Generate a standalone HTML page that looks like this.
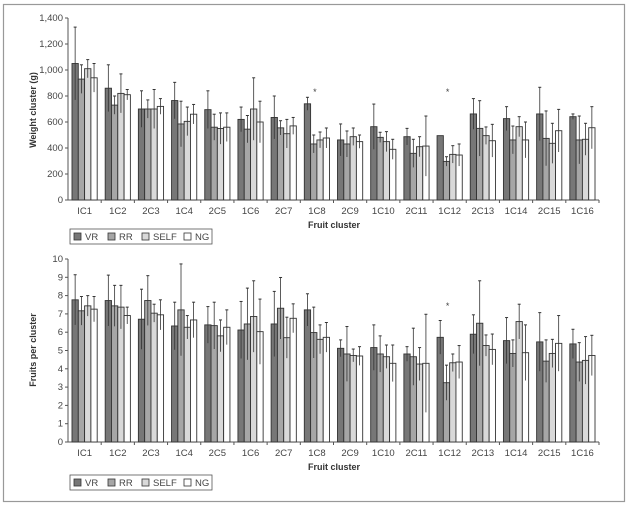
<!DOCTYPE html>
<html><head><meta charset="utf-8"><style>
html,body{margin:0;padding:0;background:#fff;}
svg{display:block;font-family:"Liberation Sans Narrow","Liberation Sans",sans-serif;}
</style></head><body>
<svg id="chart" width="630" height="507" viewBox="0 0 630 507" xmlns="http://www.w3.org/2000/svg">
<rect x="3.5" y="4.5" width="621" height="497" fill="#fff" stroke="#999" stroke-width="1.2"/>
<g id="top"></g><g id="bot"></g>
</svg>
<script>
const categories=["IC1","1C2","2C3","1C4","2C5","1C6","2C7","1C8","2C9","1C10","2C11","1C12","2C13","1C14","2C15","1C16"];
const seriesNames=["VR","RR","SELF","NG"];
const weightVR=[1050,860,700,765,695,620,635,740,462,564,487,495,662,626,662,641];
const weightRR=[930,730,700,585,560,545,555,431,431,482,359,297,551,462,474,462];
const weightSELF=[1010,820,700,605,550,700,510,462,487,449,410,351,495,564,436,467];
const weightNG=[940,810,720,660,560,600,570,477,449,390,415,346,456,462,533,556];
const weightErrTopVR=[1330,1040,840,905,840,715,800,790,585,738,551,495,780,718,867,662];
const weightErrTopRR=[1040,800,770,760,660,650,610,500,531,521,467,333,764,569,685,646];
const weightErrTopSELF=[1080,970,850,715,670,940,620,523,554,526,487,418,562,641,590,590];
const weightErrTopNG=[1050,850,780,735,670,760,635,554,500,467,646,431,582,600,697,718];
const weightTicks=["0","200","400","600","800","1,000","1,200","1,400"];
const fruitVR=[7.77,7.73,6.71,6.34,6.4,6.12,6.45,7.22,5.12,5.16,4.81,5.72,5.89,5.54,5.47,5.36];
const fruitRR=[7.17,7.44,7.73,7.22,6.36,6.45,7.31,5.98,4.81,4.81,4.66,3.24,6.49,4.84,4.42,4.37];
const fruitSELF=[7.44,7.37,7.04,6.27,5.8,6.86,5.7,5.61,4.73,4.66,4.26,4.33,5.27,6.58,4.84,4.46];
const fruitNG=[7.26,6.91,6.95,6.67,6.27,6.03,6.76,5.72,4.7,4.3,4.3,4.37,5.06,4.88,5.39,4.73];
const fruitErrTopVR=[9.14,9.12,8.35,7.64,7.4,7.68,8.23,8.1,5.58,6.4,5.21,6.64,6.95,6.8,7.07,6.16];
const fruitErrTopRR=[7.95,8.56,9.09,9.73,7.64,8.41,8.99,7.37,6.31,5.8,6.22,4.2,8.81,5.58,5.58,5.43];
const fruitErrTopSELF=[8.0,8.56,7.53,6.91,6.67,8.81,6.82,6.4,5.08,5.3,5.16,4.81,5.85,7.53,5.61,5.76];
const fruitErrTopNG=[7.95,7.37,7.77,7.64,7.22,7.81,7.55,6.53,5.21,5.3,6.98,5.27,5.9,6.4,6.91,5.83];
const fruitTicks=["0","1","2","3","4","5","6","7","8","9","10"];
const weightStars=["1C8","1C12"];
const fruitStars=["1C12"];

const NS="http://www.w3.org/2000/svg";
const fills=["#777","#a6a6a6","#d9d9d9","#fff"];
function mk(parent,tag,attrs){const e=document.createElementNS(NS,tag);for(const k in attrs)e.setAttribute(k,attrs[k]);parent.appendChild(e);return e;}

function drawChart(g,cfg){
  const x0=68,x1=599,gw=(x1-x0)/categories.length;
  const y=v=>cfg.yBase-(v/cfg.max)*(cfg.yBase-cfg.yTop);
  const gx=i=>x0+i*gw;
  // y axis
  const ya=mk(g,'line',{x1:x0,y1:cfg.yTop,x2:x0,y2:cfg.yBase,stroke:'#555','stroke-width':1});
  
  cfg.ticks.forEach((t,i)=>{
    const v=cfg.max*i/(cfg.ticks.length-1);
    const tk=mk(g,'line',{x1:x0-3,y1:y(v),x2:x0,y2:y(v),stroke:'#555'});
    
    const tl=mk(g,'text',{x:x0-5,y:y(v)+3,'text-anchor':'end','font-size':9.5,fill:'#444'});
    tl.textContent=t;
    
  });
  const xa=mk(g,'line',{x1:x0,y1:cfg.yBase,x2:x1,y2:cfg.yBase,stroke:'#555'});
  
  categories.forEach((c,i)=>{
    const tk=mk(g,'line',{x1:gx(i+1),y1:cfg.yBase,x2:gx(i+1),y2:cfg.yBase+3,stroke:'#555'});
    
    const tl=mk(g,'text',{x:gx(i)+gw/2,y:cfg.yBase+14,'text-anchor':'middle','font-size':9.5,fill:'#444'});
    tl.textContent=c;
    
    const bw=6.3,start=gx(i)+(gw-4*bw)/2;
    cfg.vals.forEach((arr,s)=>{
      const v=arr[i],et=cfg.errs[s][i],e=et-v;
      const bx=start+s*bw;
      const r=mk(g,'rect',{x:bx,y:y(v),width:bw,height:cfg.yBase-y(v),fill:fills[s],stroke:'#333','stroke-width':0.9});
      
      
      if(e>0){
        const cx=bx+bw/2;
        const el=mk(g,'line',{x1:cx,y1:y(Math.max(0,v-e)),x2:cx,y2:y(et),stroke:'#333','stroke-width':0.8});
        
        const cp=mk(g,'line',{x1:cx-1.5,y1:y(et),x2:cx+1.5,y2:y(et),stroke:'#333','stroke-width':1});
        
      }
    });
    if(cfg.stars.includes(c)){
      const st=mk(g,'text',{x:gx(i)+gw/2-2,y:cfg.starY,'text-anchor':'middle','font-size':9,fill:'#444'});
      st.textContent='*';
      
    }
  });
  const yt=mk(g,'text',{x:0,y:0,transform:`translate(36,${cfg.titleY}) rotate(-90)`,'text-anchor':'middle','font-size':9,'font-weight':'bold',fill:'#333'});
  yt.textContent=cfg.title;
  
  const xt=mk(g,'text',{x:334,y:cfg.yBase+28,'text-anchor':'middle','font-size':9,'font-weight':'bold',fill:'#333'});
  xt.textContent='Fruit cluster';
  
  const lg=mk(g,'g',{});
  
  const ly=cfg.legendY;
  mk(lg,'rect',{x:70,y:ly,width:142,height:15,fill:'#fff',stroke:'#555','stroke-width':0.8});
  const lx=[74,108,142,184];
  seriesNames.forEach((n,s)=>{
    const it=mk(lg,'g',{});
    
    mk(it,'rect',{x:lx[s],y:ly+4,width:7,height:7,fill:fills[s],stroke:'#333','stroke-width':0.8});
    const t=mk(it,'text',{x:lx[s]+11,y:ly+11,'font-size':9.5,fill:'#444'});t.textContent=n;
  });
}
drawChart(document.getElementById('top'),{yTop:18,yBase:200,max:1400,ticks:weightTicks,vals:[weightVR,weightRR,weightSELF,weightNG],errs:[weightErrTopVR,weightErrTopRR,weightErrTopSELF,weightErrTopNG],stars:weightStars,starY:95,title:'Weight cluster (g)',titleY:110,legendY:229});
drawChart(document.getElementById('bot'),{yTop:259,yBase:442,max:10,ticks:fruitTicks,vals:[fruitVR,fruitRR,fruitSELF,fruitNG],errs:[fruitErrTopVR,fruitErrTopRR,fruitErrTopSELF,fruitErrTopNG],stars:fruitStars,starY:309,title:'Fruits per cluster',titleY:350,legendY:475});
</script>
</body></html>
